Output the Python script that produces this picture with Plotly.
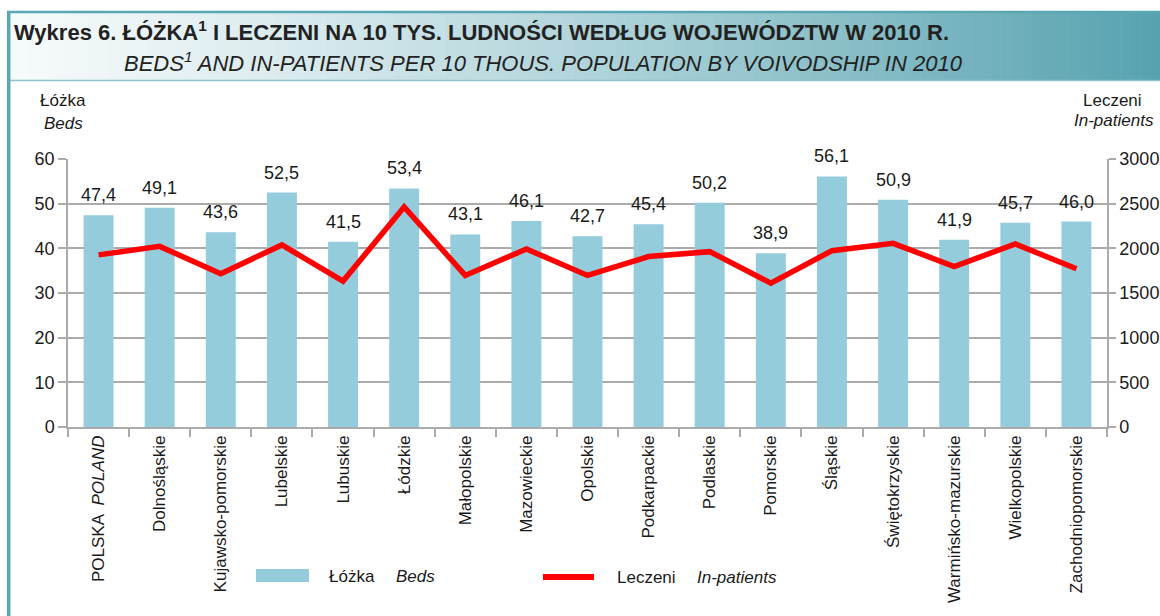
import plotly.graph_objects as go

# ---- data ----
regions = ["POLSKA", "Dolnośląskie", "Kujawsko-pomorskie", "Lubelskie", "Lubuskie", "Łódzkie",
           "Małopolskie", "Mazowieckie", "Opolskie", "Podkarpackie", "Podlaskie", "Pomorskie",
           "Śląskie", "Świętokrzyskie", "Warmińsko-mazurskie", "Wielkopolskie", "Zachodniopomorskie"]
tick_labels = ["POLSKA  <i>POLAND</i>"] + regions[1:]
beds = [47.4, 49.1, 43.6, 52.5, 41.5, 53.4, 43.1, 46.1, 42.7, 45.4, 50.2, 38.9, 56.1, 50.9, 41.9, 45.7, 46.0]
inpatients = [1927, 2022, 1716, 2038, 1633, 2463, 1697, 1993, 1697, 1908, 1963, 1611, 1974, 2056, 1797, 2049, 1771]
left_ticks = [0, 10, 20, 30, 40, 50, 60]
right_ticks = [0, 500, 1000, 1500, 2000, 2500, 3000]

FONT = "Liberation Sans, Arial, sans-serif"
TXT = "#1a1a1a"
BAR = "#94CCDC"
TEAL = "#5AA6B2"
GRID = "#ABABAB"

W, H = 1160, 616
PL, PR, PT, PB = 68, 1107, 159, 427


def px(x):
    return (x - PL) / (PR - PL)


def py(y):
    return (PB - y) / (PB - PT)


fig = go.Figure()
fig.add_trace(go.Bar(x=regions, y=beds, marker=dict(color=BAR, line=dict(width=0)),
                     width=0.49, name="Łóżka", showlegend=False, yaxis="y", hoverinfo="skip"))
fig.add_trace(go.Scatter(x=regions, y=inpatients, mode="lines",
                         line=dict(color="#FF0000", width=5.5), name="Leczeni",
                         showlegend=False, yaxis="y2", hoverinfo="skip"))

annotations = []
for r, v in zip(regions, beds):
    annotations.append(dict(x=r, y=v, xref="x", yref="y", text=f"{v:.1f}".replace(".", ","),
                            showarrow=False, yanchor="bottom", yshift=8,
                            font=dict(family=FONT, size=18, color=TXT)))

# axis titles
annotations += [
    dict(x=px(63), y=py(100), xref="paper", yref="paper", text="Łóżka", showarrow=False,
         xanchor="center", yanchor="middle", font=dict(family=FONT, size=17, color=TXT)),
    dict(x=px(63), y=py(123), xref="paper", yref="paper", text="<i>Beds</i>", showarrow=False,
         xanchor="center", yanchor="middle", font=dict(family=FONT, size=17, color=TXT)),
    dict(x=px(1144), y=py(100), xref="paper", yref="paper", text="Leczeni", showarrow=False,
         xanchor="right", yanchor="middle", font=dict(family=FONT, size=17, color=TXT)),
    dict(x=px(1156), y=py(121), xref="paper", yref="paper", text="<i>In-patients</i>", showarrow=False,
         xanchor="right", yanchor="middle", font=dict(family=FONT, size=17, color=TXT)),
]

# title
annotations += [
    dict(x=px(12), y=py(31), xref="paper", yref="paper",
         text="<b>Wykres 6. ŁÓŻKA<sup>1</sup> I LECZENI NA 10 TYS. LUDNOŚCI WEDŁUG WOJEWÓDZTW W 2010 R.</b>",
         showarrow=False, xanchor="left", yanchor="middle", font=dict(family=FONT, size=22, color="#222222")),
    dict(x=px(122), y=py(62), xref="paper", yref="paper",
         text="<i>BEDS<sup>1</sup> AND IN-PATIENTS PER 10 THOUS. POPULATION BY VOIVODSHIP IN 2010</i>",
         showarrow=False, xanchor="left", yanchor="middle", font=dict(family=FONT, size=22, color="#222222")),
]

# legend (drawn)
annotations += [
    dict(x=px(327), y=py(576), xref="paper", yref="paper", text="Łóżka", showarrow=False,
         xanchor="left", yanchor="middle", font=dict(family=FONT, size=17, color=TXT)),
    dict(x=px(394), y=py(576), xref="paper", yref="paper", text="<i>Beds</i>", showarrow=False,
         xanchor="left", yanchor="middle", font=dict(family=FONT, size=17, color=TXT)),
    dict(x=px(615), y=py(577), xref="paper", yref="paper", text="Leczeni", showarrow=False,
         xanchor="left", yanchor="middle", font=dict(family=FONT, size=17, color=TXT)),
    dict(x=px(695), y=py(577), xref="paper", yref="paper", text="<i>In-patients</i>", showarrow=False,
         xanchor="left", yanchor="middle", font=dict(family=FONT, size=17, color=TXT)),
]

shapes = []
# header gradient band
N = 116
c0 = (246, 250, 251)
c1 = (86, 162, 175)
for i in range(N):
    xa = 9 + (W - 9) * i / N
    xb = 9 + (W - 9) * (i + 1) / N + 0.6
    t = ((i + 0.5) / N) ** 1.2
    col = "rgb(%d,%d,%d)" % tuple(round(a + (b - a) * t) for a, b in zip(c0, c1))
    shapes.append(dict(type="rect", xref="paper", yref="paper", x0=px(xa), x1=px(xb),
                       y0=py(80), y1=py(12), fillcolor=col, line=dict(width=0), layer="below"))
# top border line, bottom line of header, left border line
shapes.append(dict(type="line", xref="paper", yref="paper", x0=px(7), x1=px(W), y0=py(12), y1=py(12),
                   line=dict(color=TEAL, width=2.5)))
shapes.append(dict(type="line", xref="paper", yref="paper", x0=px(9), x1=px(W), y0=py(80.5), y1=py(80.5),
                   line=dict(color="#8CC3CC", width=1.5)))
shapes.append(dict(type="line", xref="paper", yref="paper", x0=px(8.7), x1=px(8.7), y0=py(11), y1=py(H + 2),
                   line=dict(color=TEAL, width=3.5)))
# legend swatches
shapes.append(dict(type="rect", xref="paper", yref="paper", x0=px(256), x1=px(309), y0=py(582), y1=py(569),
                   fillcolor=BAR, line=dict(width=0)))
shapes.append(dict(type="line", xref="paper", yref="paper", x0=px(543), x1=px(594), y0=py(577), y1=py(577),
                   line=dict(color="#FF0000", width=6)))

fig.update_layout(
    template="none",
    width=W, height=H,
    margin=dict(l=PL, r=W - PR, t=PT, b=H - PB, pad=0, autoexpand=False),
    paper_bgcolor="white", plot_bgcolor="white",
    font=dict(family=FONT, size=18, color=TXT),
    showlegend=False,
    hovermode=False,
    xaxis=dict(type="category", tickmode="array", tickvals=regions, ticktext=tick_labels,
               tickangle=-90, ticks="outside", tickson="boundaries", ticklen=8, tickcolor=GRID,
               tickwidth=1.5, showline=True, linecolor=GRID, linewidth=1.5, showgrid=False,
               automargin=False, tickfont=dict(family=FONT, size=17, color=TXT), range=[-0.5, 16.5]),
    yaxis=dict(range=[0, 60], tickvals=left_ticks, showgrid=True, gridcolor=GRID, gridwidth=1.5,
               ticks="outside", ticklen=8, tickcolor=GRID, tickwidth=1.5, showline=True,
               linecolor=GRID, linewidth=1.5, zeroline=False, automargin=False,
               tickfont=dict(family=FONT, size=18, color=TXT)),
    yaxis2=dict(range=[0, 3000], tickvals=right_ticks, overlaying="y", side="right", showgrid=False,
                ticks="outside", ticklen=7, tickcolor=GRID, tickwidth=1.5, showline=True,
                linecolor=GRID, linewidth=1.5, zeroline=False, automargin=False,
                tickfont=dict(family=FONT, size=18, color=TXT)),
    annotations=annotations,
    shapes=shapes,
)

fig.write_html("out.html", config={"displayModeBar": False},
               post_script="document.body.style.margin='0px';document.body.style.overflow='hidden';")
